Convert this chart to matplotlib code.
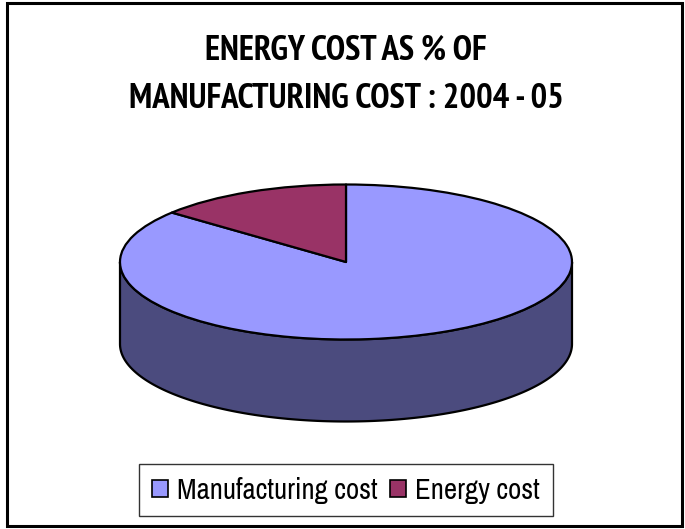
import numpy as np
import matplotlib
matplotlib.use("Agg")
import matplotlib.pyplot as plt
from matplotlib.patches import Polygon, Rectangle, Patch
from matplotlib import font_manager

labels = ["Manufacturing cost", "Energy cost"]
values = [86, 14]
top_colors = ["#9999FF", "#993366"]
side_colors = ["#4B4B7E", "#4D1A33"]
title_lines = ["ENERGY COST AS % OF", "MANUFACTURING COST : 2004 - 05"]

fl = font_manager.fontManager.ttflist
names = {f.name for f in fl}
cands = ["Liberation Sans Narrow", "Arial Narrow", "Archivo Narrow", "PT Sans Narrow",
         "Roboto Condensed", "Liberation Sans"]
FAM = next((c for c in cands if c in names), "Liberation Sans")
BFAM = next((c for c in cands
             if any(f.name == c and int(f.weight) >= 700 for f in fl)), "Liberation Sans")

W, H = 685, 529
fig = plt.figure(figsize=(W / 100, H / 100), dpi=100)

# pie geometry in pixels
cx, cy = 346, 262
rx, ry = 226, 77.5
depth_px = 82
depth = depth_px / ry

xl = (-1.1, 1.1)
yl = (-2.3, 1.1)
left = cx + xl[0] * rx
bottom = (H - cy) + yl[0] * ry
ax = fig.add_axes([left / W, bottom / H, (xl[1] - xl[0]) * rx / W, (yl[1] - yl[0]) * ry / H])

fr = np.array(values, dtype=float) / sum(values)
starts = 90 - 360 * np.concatenate([[0], np.cumsum(fr)[:-1]])
ends = starts - 360 * fr

for i in range(len(values)):
    a0, a1 = ends[i], starts[i]
    for off in (-360, 0, 360):
        lo = max(a0 + off, -180)
        hi = min(a1 + off, 0)
        if hi > lo:
            t = np.radians(np.linspace(lo, hi, 200))
            xs = np.cos(t)
            ys = np.sin(t)
            poly = np.concatenate([np.column_stack([xs, ys]),
                                   np.column_stack([xs[::-1], ys[::-1] - depth])])
            ax.add_patch(Polygon(poly, closed=True, facecolor=side_colors[i],
                                 edgecolor="black", linewidth=1.6, joinstyle="round"))

ax.pie(values, colors=top_colors, startangle=90, counterclock=False, radius=1.0,
       center=(0, 0), frame=True,
       wedgeprops=dict(edgecolor="black", linewidth=1.6, joinstyle="round"))
ax.set_xlim(*xl)
ax.set_ylim(*yl)
ax.set_aspect("auto")
ax.axis("off")

t1 = fig.text(0.505, 1 - 46.5 / H, title_lines[0], ha="center", va="center_baseline",
              fontsize=20, fontweight="bold", family=BFAM)
t2 = fig.text(0.505, 1 - 96 / H, title_lines[1], ha="center", va="center_baseline",
              fontsize=20, fontweight="bold", family=BFAM)

# calibrate title size to the reference width of line 2 (~451 px), capped by cap height
fig.canvas.draw()
r = fig.canvas.get_renderer()
w2 = t2.get_window_extent(r).width
ts = min(20 * 451 / w2, 25)
t1.set_fontsize(ts)
t2.set_fontsize(ts)

# calibrate legend font size so "Manufacturing cost" is ~200 px wide
probe = fig.text(0, 0, labels[0], fontsize=17, family=FAM)
fig.canvas.draw()
lw = probe.get_window_extent(fig.canvas.get_renderer()).width
probe.remove()
ls = min(17 * 200 / lw, 22)

handles = [Patch(facecolor=c, edgecolor="black", linewidth=1.2) for c in top_colors]
leg = fig.legend(handles, labels, loc="center", bbox_to_anchor=(346 / W, 1 - 490 / H),
                 ncol=2, frameon=True, fancybox=False, edgecolor="black",
                 prop=dict(family=FAM, size=ls),
                 handlelength=0.55, handleheight=0.55, handletextpad=0.3,
                 columnspacing=0.45, borderpad=0.45, borderaxespad=0)
leg.get_frame().set_linewidth(1.0)

fig.add_artist(Rectangle((7 / W, 3 / H), 675 / W, 523 / H, transform=fig.transFigure,
                         fill=False, edgecolor="black", linewidth=2.2))

fig.savefig("out.png", dpi=100)
